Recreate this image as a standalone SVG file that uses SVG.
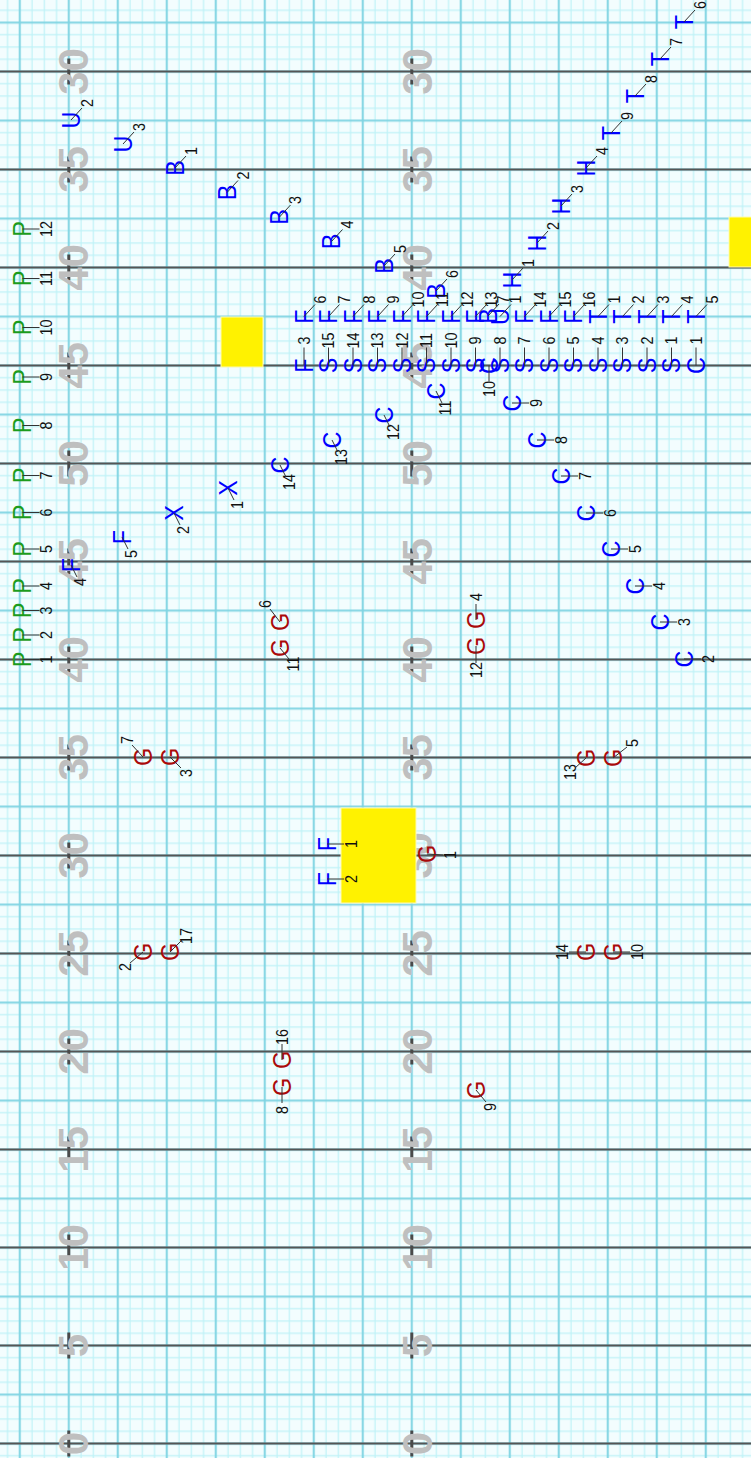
<svg xmlns="http://www.w3.org/2000/svg" width="751" height="1458" viewBox="0 0 751 1458">
<style>
.L{font-family:"Liberation Sans",Arial,sans-serif;font-size:26px;text-anchor:middle;dominant-baseline:central}
.N{font-family:"Liberation Sans",Arial,sans-serif;font-size:16px;text-anchor:middle;dominant-baseline:central;fill:#111}
.b{fill:#0000ff}.g{fill:#1c9c1c}.r{fill:#aa0a0a}
.Y{font-family:"Liberation Sans",Arial,sans-serif;font-size:42px;font-weight:bold;text-anchor:middle;fill:#bfbfbf}
.yl{fill:#fff200;stroke:#fffbb0;stroke-width:1}
#connectors line{stroke:#333;stroke-width:1}
.dk{stroke:#555;stroke-width:2}
.hs{stroke:#4a4a4a;stroke-width:3}
</style>
<defs>
<pattern id="grid" patternUnits="userSpaceOnUse" x="13.675" y="16.375" width="49" height="49">
<path d="M18.375 0V49M30.625 0V49M42.875 0V49M0 18.375H49M0 30.625H49M0 42.875H49" stroke="#bff2f7" stroke-width="1.2" fill="none"/>
<path d="M6.125 0V49M0 6.125H49" stroke="#80d4e2" stroke-width="2" fill="none"/>
</pattern>
</defs>
<g id="field">
<rect x="0" y="0" width="751" height="1458" fill="#f3fdfe"/>
<rect x="0" y="0" width="751" height="1458" fill="url(#grid)"/>
<path class="dk" d="M0 71.5H751M0 169.5H751M0 267.5H751M0 365.5H751M0 463.5H751M0 561.5H751M0 659.5H751M0 757.5H751M0 855.5H751M0 953.5H751M0 1051.5H751M0 1149.5H751M0 1247.5H751M0 1345.5H751M0 1443.5H751"/>
<path class="hs" d="M68.8 58.5V84.5M68.8 156.5V182.5M68.8 254.5V280.5M68.8 352.5V378.5M68.8 450.5V476.5M68.8 548.5V574.5M68.8 646.5V672.5M68.8 744.5V770.5M68.8 842.5V868.5M68.8 940.5V966.5M68.8 1038.5V1064.5M68.8 1136.5V1162.5M68.8 1234.5V1260.5M68.8 1332.5V1358.5M68.8 1430.5V1456.5M411.8 58.5V84.5M411.8 156.5V182.5M411.8 254.5V280.5M411.8 352.5V378.5M411.8 450.5V476.5M411.8 548.5V574.5M411.8 646.5V672.5M411.8 744.5V770.5M411.8 842.5V868.5M411.8 940.5V966.5M411.8 1038.5V1064.5M411.8 1136.5V1162.5M411.8 1234.5V1260.5M411.8 1332.5V1358.5M411.8 1430.5V1456.5"/>
<g id="yard-numbers">
<text class="Y" transform="translate(88 71.5) rotate(-90)">30</text>
<text class="Y" transform="translate(88 169.5) rotate(-90)">35</text>
<text class="Y" transform="translate(88 267.5) rotate(-90)">40</text>
<text class="Y" transform="translate(88 365.5) rotate(-90)">45</text>
<text class="Y" transform="translate(88 463.5) rotate(-90)">50</text>
<text class="Y" transform="translate(88 561.5) rotate(-90)">45</text>
<text class="Y" transform="translate(88 659.5) rotate(-90)">40</text>
<text class="Y" transform="translate(88 757.5) rotate(-90)">35</text>
<text class="Y" transform="translate(88 855.5) rotate(-90)">30</text>
<text class="Y" transform="translate(88 953.5) rotate(-90)">25</text>
<text class="Y" transform="translate(88 1051.5) rotate(-90)">20</text>
<text class="Y" transform="translate(88 1149.5) rotate(-90)">15</text>
<text class="Y" transform="translate(88 1247.5) rotate(-90)">10</text>
<text class="Y" transform="translate(88 1345.5) rotate(-90)">5</text>
<text class="Y" transform="translate(88 1443.5) rotate(-90)">0</text>
<text class="Y" transform="translate(431.5 71.5) rotate(-90)">30</text>
<text class="Y" transform="translate(431.5 169.5) rotate(-90)">35</text>
<text class="Y" transform="translate(431.5 267.5) rotate(-90)">40</text>
<text class="Y" transform="translate(431.5 365.5) rotate(-90)">45</text>
<text class="Y" transform="translate(431.5 463.5) rotate(-90)">50</text>
<text class="Y" transform="translate(431.5 561.5) rotate(-90)">45</text>
<text class="Y" transform="translate(431.5 659.5) rotate(-90)">40</text>
<text class="Y" transform="translate(431.5 757.5) rotate(-90)">35</text>
<text class="Y" transform="translate(431.5 855.5) rotate(-90)">30</text>
<text class="Y" transform="translate(431.5 953.5) rotate(-90)">25</text>
<text class="Y" transform="translate(431.5 1051.5) rotate(-90)">20</text>
<text class="Y" transform="translate(431.5 1149.5) rotate(-90)">15</text>
<text class="Y" transform="translate(431.5 1247.5) rotate(-90)">10</text>
<text class="Y" transform="translate(431.5 1345.5) rotate(-90)">5</text>
<text class="Y" transform="translate(431.5 1443.5) rotate(-90)">0</text>
</g>
<rect class="yl" x="221" y="317" width="42" height="50"/>
<rect class="yl" x="729" y="217" width="30" height="50"/>
<rect class="yl" x="341" y="808" width="75" height="95"/>
</g>
<g id="nodes">
<g id="U2"><text class="L b" transform="translate(71 120) rotate(-90) scale(.9 1)">U</text><text class="N" transform="translate(87 103) rotate(-90) scale(.9 1)">2</text></g>
<g id="U3"><text class="L b" transform="translate(123 144) rotate(-90) scale(.9 1)">U</text><text class="N" transform="translate(139 127) rotate(-90) scale(.9 1)">3</text></g>
<g id="B1"><text class="L b" transform="translate(175 168) rotate(-90) scale(.9 1)">B</text><text class="N" transform="translate(191 151) rotate(-90) scale(.9 1)">1</text></g>
<g id="B2"><text class="L b" transform="translate(227 192.5) rotate(-90) scale(.9 1)">B</text><text class="N" transform="translate(243 175.5) rotate(-90) scale(.9 1)">2</text></g>
<g id="B3"><text class="L b" transform="translate(279.5 217) rotate(-90) scale(.9 1)">B</text><text class="N" transform="translate(295.5 200) rotate(-90) scale(.9 1)">3</text></g>
<g id="B4"><text class="L b" transform="translate(331.5 241.5) rotate(-90) scale(.9 1)">B</text><text class="N" transform="translate(347.5 224.5) rotate(-90) scale(.9 1)">4</text></g>
<g id="B5"><text class="L b" transform="translate(384 266) rotate(-90) scale(.9 1)">B</text><text class="N" transform="translate(400 249) rotate(-90) scale(.9 1)">5</text></g>
<g id="B6"><text class="L b" transform="translate(436 291) rotate(-90) scale(.9 1)">B</text><text class="N" transform="translate(452 274) rotate(-90) scale(.9 1)">6</text></g>
<g id="H1"><text class="L b" transform="translate(512 280) rotate(-90) scale(.9 1)">H</text><text class="N" transform="translate(528 263) rotate(-90) scale(.9 1)">1</text></g>
<g id="H2"><text class="L b" transform="translate(537 243) rotate(-90) scale(.9 1)">H</text><text class="N" transform="translate(553 226) rotate(-90) scale(.9 1)">2</text></g>
<g id="H3"><text class="L b" transform="translate(561 206) rotate(-90) scale(.9 1)">H</text><text class="N" transform="translate(577 189) rotate(-90) scale(.9 1)">3</text></g>
<g id="H4"><text class="L b" transform="translate(586 168) rotate(-90) scale(.9 1)">H</text><text class="N" transform="translate(602 151) rotate(-90) scale(.9 1)">4</text></g>
<g id="T9"><text class="L b" transform="translate(611 133) rotate(-90) scale(.9 1)">T</text><text class="N" transform="translate(627 116) rotate(-90) scale(.9 1)">9</text></g>
<g id="T8"><text class="L b" transform="translate(635 96) rotate(-90) scale(.9 1)">T</text><text class="N" transform="translate(651 79) rotate(-90) scale(.9 1)">8</text></g>
<g id="T7"><text class="L b" transform="translate(660 59) rotate(-90) scale(.9 1)">T</text><text class="N" transform="translate(676 42) rotate(-90) scale(.9 1)">7</text></g>
<g id="T6"><text class="L b" transform="translate(684 22) rotate(-90) scale(.9 1)">T</text><text class="N" transform="translate(700 5) rotate(-90) scale(.9 1)">6</text></g>
<g id="F6"><text class="L b" transform="translate(304 316.5) rotate(-90) scale(.9 1)">F</text><text class="N" transform="translate(320 299.5) rotate(-90) scale(.9 1)">6</text></g>
<g id="F7"><text class="L b" transform="translate(328.5 316.5) rotate(-90) scale(.9 1)">F</text><text class="N" transform="translate(344.5 299.5) rotate(-90) scale(.9 1)">7</text></g>
<g id="F8"><text class="L b" transform="translate(353 316.5) rotate(-90) scale(.9 1)">F</text><text class="N" transform="translate(369 299.5) rotate(-90) scale(.9 1)">8</text></g>
<g id="F9"><text class="L b" transform="translate(377.5 316.5) rotate(-90) scale(.9 1)">F</text><text class="N" transform="translate(393.5 299.5) rotate(-90) scale(.9 1)">9</text></g>
<g id="F10"><text class="L b" transform="translate(402 316.5) rotate(-90) scale(.9 1)">F</text><text class="N" transform="translate(418 299.5) rotate(-90) scale(.9 1)">10</text></g>
<g id="F11"><text class="L b" transform="translate(426.5 316.5) rotate(-90) scale(.9 1)">F</text><text class="N" transform="translate(442.5 299.5) rotate(-90) scale(.9 1)">11</text></g>
<g id="F12"><text class="L b" transform="translate(451 316.5) rotate(-90) scale(.9 1)">F</text><text class="N" transform="translate(467 299.5) rotate(-90) scale(.9 1)">12</text></g>
<g id="F13"><text class="L b" transform="translate(475.5 316.5) rotate(-90) scale(.9 1)">F</text><text class="N" transform="translate(491.5 299.5) rotate(-90) scale(.9 1)">13</text></g>
<g id="B7"><text class="L b" transform="translate(488 316) rotate(-90) scale(.9 1)">B</text><text class="N" transform="translate(503 299.5) rotate(-90) scale(.9 1)">7</text></g>
<g id="U1"><text class="L b" transform="translate(500 316.5) rotate(-90) scale(.9 1)">U</text><text class="N" transform="translate(515 299.5) rotate(-90) scale(.9 1)">1</text></g>
<g id="F14"><text class="L b" transform="translate(524.5 316.5) rotate(-90) scale(.9 1)">F</text><text class="N" transform="translate(540.5 299.5) rotate(-90) scale(.9 1)">14</text></g>
<g id="F15"><text class="L b" transform="translate(549 316.5) rotate(-90) scale(.9 1)">F</text><text class="N" transform="translate(565 299.5) rotate(-90) scale(.9 1)">15</text></g>
<g id="F16"><text class="L b" transform="translate(573.5 316.5) rotate(-90) scale(.9 1)">F</text><text class="N" transform="translate(589.5 299.5) rotate(-90) scale(.9 1)">16</text></g>
<g id="T1"><text class="L b" transform="translate(598 316.5) rotate(-90) scale(.9 1)">T</text><text class="N" transform="translate(614 299.5) rotate(-90) scale(.9 1)">1</text></g>
<g id="T2"><text class="L b" transform="translate(622.5 316.5) rotate(-90) scale(.9 1)">T</text><text class="N" transform="translate(638.5 299.5) rotate(-90) scale(.9 1)">2</text></g>
<g id="T3"><text class="L b" transform="translate(647 316.5) rotate(-90) scale(.9 1)">T</text><text class="N" transform="translate(663 299.5) rotate(-90) scale(.9 1)">3</text></g>
<g id="T4"><text class="L b" transform="translate(671.5 316.5) rotate(-90) scale(.9 1)">T</text><text class="N" transform="translate(687.5 299.5) rotate(-90) scale(.9 1)">4</text></g>
<g id="T5"><text class="L b" transform="translate(696 316.5) rotate(-90) scale(.9 1)">T</text><text class="N" transform="translate(712 299.5) rotate(-90) scale(.9 1)">5</text></g>
<g id="F3"><text class="L b" transform="translate(304 365.5) rotate(-90) scale(.9 1)">F</text><text class="N" transform="translate(304 340.5) rotate(-90) scale(.9 1)">3</text></g>
<g id="S15"><text class="L b" transform="translate(328.5 365.5) rotate(-90) scale(.9 1)">S</text><text class="N" transform="translate(328.5 340.5) rotate(-90) scale(.9 1)">15</text></g>
<g id="S14"><text class="L b" transform="translate(353 365.5) rotate(-90) scale(.9 1)">S</text><text class="N" transform="translate(353 340.5) rotate(-90) scale(.9 1)">14</text></g>
<g id="S13"><text class="L b" transform="translate(377.5 365.5) rotate(-90) scale(.9 1)">S</text><text class="N" transform="translate(377.5 340.5) rotate(-90) scale(.9 1)">13</text></g>
<g id="S12"><text class="L b" transform="translate(402 365.5) rotate(-90) scale(.9 1)">S</text><text class="N" transform="translate(402 340.5) rotate(-90) scale(.9 1)">12</text></g>
<g id="S11"><text class="L b" transform="translate(426.5 365.5) rotate(-90) scale(.9 1)">S</text><text class="N" transform="translate(426.5 340.5) rotate(-90) scale(.9 1)">11</text></g>
<g id="S10"><text class="L b" transform="translate(451 365.5) rotate(-90) scale(.9 1)">S</text><text class="N" transform="translate(451 340.5) rotate(-90) scale(.9 1)">10</text></g>
<g id="S9"><text class="L b" transform="translate(475.5 365.5) rotate(-90) scale(.9 1)">S</text><text class="N" transform="translate(475.5 340.5) rotate(-90) scale(.9 1)">9</text></g>
<g id="C10"><text class="L b" transform="translate(489 365.5) rotate(-90) scale(.9 1)">C</text><text class="N" transform="translate(489 389) rotate(-90) scale(.9 1)">10</text></g>
<g id="S8"><text class="L b" transform="translate(500 365.5) rotate(-90) scale(.9 1)">S</text><text class="N" transform="translate(500 340.5) rotate(-90) scale(.9 1)">8</text></g>
<g id="S7"><text class="L b" transform="translate(524.5 365.5) rotate(-90) scale(.9 1)">S</text><text class="N" transform="translate(524.5 340.5) rotate(-90) scale(.9 1)">7</text></g>
<g id="S6"><text class="L b" transform="translate(549 365.5) rotate(-90) scale(.9 1)">S</text><text class="N" transform="translate(549 340.5) rotate(-90) scale(.9 1)">6</text></g>
<g id="S5"><text class="L b" transform="translate(573.5 365.5) rotate(-90) scale(.9 1)">S</text><text class="N" transform="translate(573.5 340.5) rotate(-90) scale(.9 1)">5</text></g>
<g id="S4"><text class="L b" transform="translate(598 365.5) rotate(-90) scale(.9 1)">S</text><text class="N" transform="translate(598 340.5) rotate(-90) scale(.9 1)">4</text></g>
<g id="S3"><text class="L b" transform="translate(622.5 365.5) rotate(-90) scale(.9 1)">S</text><text class="N" transform="translate(622.5 340.5) rotate(-90) scale(.9 1)">3</text></g>
<g id="S2"><text class="L b" transform="translate(647 365.5) rotate(-90) scale(.9 1)">S</text><text class="N" transform="translate(647 340.5) rotate(-90) scale(.9 1)">2</text></g>
<g id="S1"><text class="L b" transform="translate(671.5 365.5) rotate(-90) scale(.9 1)">S</text><text class="N" transform="translate(671.5 340.5) rotate(-90) scale(.9 1)">1</text></g>
<g id="C1"><text class="L b" transform="translate(696 365.5) rotate(-90) scale(.9 1)">C</text><text class="N" transform="translate(696 340.5) rotate(-90) scale(.9 1)">1</text></g>
<g id="C9"><text class="L b" transform="translate(512 403) rotate(-90) scale(.9 1)">C</text><text class="N" transform="translate(536 403) rotate(-90) scale(.9 1)">9</text></g>
<g id="C8"><text class="L b" transform="translate(537 440) rotate(-90) scale(.9 1)">C</text><text class="N" transform="translate(561 440) rotate(-90) scale(.9 1)">8</text></g>
<g id="C7"><text class="L b" transform="translate(561 476) rotate(-90) scale(.9 1)">C</text><text class="N" transform="translate(585 476) rotate(-90) scale(.9 1)">7</text></g>
<g id="C6"><text class="L b" transform="translate(586 513) rotate(-90) scale(.9 1)">C</text><text class="N" transform="translate(610 513) rotate(-90) scale(.9 1)">6</text></g>
<g id="C5"><text class="L b" transform="translate(611 549) rotate(-90) scale(.9 1)">C</text><text class="N" transform="translate(635 549) rotate(-90) scale(.9 1)">5</text></g>
<g id="C4"><text class="L b" transform="translate(635 586) rotate(-90) scale(.9 1)">C</text><text class="N" transform="translate(659 586) rotate(-90) scale(.9 1)">4</text></g>
<g id="C3"><text class="L b" transform="translate(660 622) rotate(-90) scale(.9 1)">C</text><text class="N" transform="translate(684 622) rotate(-90) scale(.9 1)">3</text></g>
<g id="C2"><text class="L b" transform="translate(684 659) rotate(-90) scale(.9 1)">C</text><text class="N" transform="translate(708 659) rotate(-90) scale(.9 1)">2</text></g>
<g id="C11"><text class="L b" transform="translate(436 391) rotate(-90) scale(.9 1)">C</text><text class="N" transform="translate(445 408) rotate(-90) scale(.9 1)">11</text></g>
<g id="C12"><text class="L b" transform="translate(384 415) rotate(-90) scale(.9 1)">C</text><text class="N" transform="translate(393 432) rotate(-90) scale(.9 1)">12</text></g>
<g id="C13"><text class="L b" transform="translate(332 440) rotate(-90) scale(.9 1)">C</text><text class="N" transform="translate(341 457) rotate(-90) scale(.9 1)">13</text></g>
<g id="C14"><text class="L b" transform="translate(280 465) rotate(-90) scale(.9 1)">C</text><text class="N" transform="translate(289 482) rotate(-90) scale(.9 1)">14</text></g>
<g id="P1"><text class="L g" transform="translate(22.5 659.5) rotate(-90) scale(.9 1)">P</text><text class="N" transform="translate(46.5 659.5) rotate(-90) scale(.9 1)">1</text></g>
<g id="P2"><text class="L g" transform="translate(22.5 635) rotate(-90) scale(.9 1)">P</text><text class="N" transform="translate(46.5 635) rotate(-90) scale(.9 1)">2</text></g>
<g id="P3"><text class="L g" transform="translate(22.5 610.5) rotate(-90) scale(.9 1)">P</text><text class="N" transform="translate(46.5 610.5) rotate(-90) scale(.9 1)">3</text></g>
<g id="P4"><text class="L g" transform="translate(22.5 586) rotate(-90) scale(.9 1)">P</text><text class="N" transform="translate(46.5 586) rotate(-90) scale(.9 1)">4</text></g>
<g id="P5"><text class="L g" transform="translate(22.5 549) rotate(-90) scale(.9 1)">P</text><text class="N" transform="translate(46.5 549) rotate(-90) scale(.9 1)">5</text></g>
<g id="P6"><text class="L g" transform="translate(22.5 512.5) rotate(-90) scale(.9 1)">P</text><text class="N" transform="translate(46.5 512.5) rotate(-90) scale(.9 1)">6</text></g>
<g id="P7"><text class="L g" transform="translate(22.5 475.5) rotate(-90) scale(.9 1)">P</text><text class="N" transform="translate(46.5 475.5) rotate(-90) scale(.9 1)">7</text></g>
<g id="P8"><text class="L g" transform="translate(22.5 425.5) rotate(-90) scale(.9 1)">P</text><text class="N" transform="translate(46.5 425.5) rotate(-90) scale(.9 1)">8</text></g>
<g id="P9"><text class="L g" transform="translate(22.5 377) rotate(-90) scale(.9 1)">P</text><text class="N" transform="translate(46.5 377) rotate(-90) scale(.9 1)">9</text></g>
<g id="P10"><text class="L g" transform="translate(22.5 327.5) rotate(-90) scale(.9 1)">P</text><text class="N" transform="translate(46.5 327.5) rotate(-90) scale(.9 1)">10</text></g>
<g id="P11"><text class="L g" transform="translate(22.5 278.5) rotate(-90) scale(.9 1)">P</text><text class="N" transform="translate(46.5 278.5) rotate(-90) scale(.9 1)">11</text></g>
<g id="P12"><text class="L g" transform="translate(22.5 229) rotate(-90) scale(.9 1)">P</text><text class="N" transform="translate(46.5 229) rotate(-90) scale(.9 1)">12</text></g>
<g id="F4"><text class="L b" transform="translate(71 565) rotate(-90) scale(.9 1)">F</text><text class="N" transform="translate(80 582) rotate(-90) scale(.9 1)">4</text></g>
<g id="F5"><text class="L b" transform="translate(122 537) rotate(-90) scale(.9 1)">F</text><text class="N" transform="translate(131 554) rotate(-90) scale(.9 1)">5</text></g>
<g id="X1"><text class="L b" transform="translate(228 488) rotate(-90) scale(.9 1)">X</text><text class="N" transform="translate(237 505) rotate(-90) scale(.9 1)">1</text></g>
<g id="X2"><text class="L b" transform="translate(174 513) rotate(-90) scale(.9 1)">X</text><text class="N" transform="translate(183 530) rotate(-90) scale(.9 1)">2</text></g>
<g id="F1"><text class="L b" transform="translate(327 844) rotate(-90) scale(.9 1)">F</text><text class="N" transform="translate(351 844) rotate(-90) scale(.9 1)">1</text></g>
<g id="F2"><text class="L b" transform="translate(327 879) rotate(-90) scale(.9 1)">F</text><text class="N" transform="translate(351 879) rotate(-90) scale(.9 1)">2</text></g>
<g id="G1"><text class="L r" transform="translate(427 854) rotate(-90) scale(.9 1)">G</text><text class="N" transform="translate(450 855) rotate(-90) scale(.9 1)">1</text></g>
<g id="G2"><text class="L r" transform="translate(143 952) rotate(-90) scale(.9 1)">G</text><text class="N" transform="translate(125 967) rotate(-90) scale(.9 1)">2</text></g>
<g id="G3"><text class="L r" transform="translate(170 757) rotate(-90) scale(.9 1)">G</text><text class="N" transform="translate(186 773) rotate(-90) scale(.9 1)">3</text></g>
<g id="G4"><text class="L r" transform="translate(476 620) rotate(-90) scale(.9 1)">G</text><text class="N" transform="translate(476 597) rotate(-90) scale(.9 1)">4</text></g>
<g id="G5"><text class="L r" transform="translate(613 758) rotate(-90) scale(.9 1)">G</text><text class="N" transform="translate(632 743) rotate(-90) scale(.9 1)">5</text></g>
<g id="G6"><text class="L r" transform="translate(280 622) rotate(-90) scale(.9 1)">G</text><text class="N" transform="translate(265 604) rotate(-90) scale(.9 1)">6</text></g>
<g id="G7"><text class="L r" transform="translate(143 757) rotate(-90) scale(.9 1)">G</text><text class="N" transform="translate(127 740) rotate(-90) scale(.9 1)">7</text></g>
<g id="G8"><text class="L r" transform="translate(282 1087) rotate(-90) scale(.9 1)">G</text><text class="N" transform="translate(282 1110) rotate(-90) scale(.9 1)">8</text></g>
<g id="G9"><text class="L r" transform="translate(476 1090) rotate(-90) scale(.9 1)">G</text><text class="N" transform="translate(490 1107) rotate(-90) scale(.9 1)">9</text></g>
<g id="G10"><text class="L r" transform="translate(613 952) rotate(-90) scale(.9 1)">G</text><text class="N" transform="translate(637 952) rotate(-90) scale(.9 1)">10</text></g>
<g id="G11"><text class="L r" transform="translate(280 648) rotate(-90) scale(.9 1)">G</text><text class="N" transform="translate(293 664) rotate(-90) scale(.9 1)">11</text></g>
<g id="G12"><text class="L r" transform="translate(476 646) rotate(-90) scale(.9 1)">G</text><text class="N" transform="translate(476 670) rotate(-90) scale(.9 1)">12</text></g>
<g id="G13"><text class="L r" transform="translate(586 758) rotate(-90) scale(.9 1)">G</text><text class="N" transform="translate(570 772) rotate(-90) scale(.9 1)">13</text></g>
<g id="G14"><text class="L r" transform="translate(586 952) rotate(-90) scale(.9 1)">G</text><text class="N" transform="translate(562 952) rotate(-90) scale(.9 1)">14</text></g>
<g id="G16"><text class="L r" transform="translate(282 1060) rotate(-90) scale(.9 1)">G</text><text class="N" transform="translate(282 1037) rotate(-90) scale(.9 1)">16</text></g>
<g id="G17"><text class="L r" transform="translate(170 952) rotate(-90) scale(.9 1)">G</text><text class="N" transform="translate(186 936) rotate(-90) scale(.9 1)">17</text></g>
</g>
<g id="connectors">
<line x1="71" y1="120" x2="82" y2="108"/><line x1="123" y1="144" x2="134" y2="132"/>
<line x1="175" y1="168" x2="186" y2="156"/><line x1="227" y1="192.5" x2="238" y2="180.5"/><line x1="279.5" y1="217" x2="290.5" y2="205"/><line x1="331.5" y1="241.5" x2="342.5" y2="229.5"/><line x1="384" y1="266" x2="395" y2="254"/><line x1="436" y1="291" x2="447" y2="279"/><line x1="488" y1="316" x2="499" y2="304"/>
<line x1="512" y1="280" x2="523" y2="268"/><line x1="537" y1="243" x2="548" y2="231"/><line x1="561" y1="206" x2="572" y2="194"/><line x1="586" y1="168" x2="597" y2="156"/>
<line x1="611" y1="133" x2="622" y2="121"/><line x1="635" y1="96" x2="646" y2="84"/><line x1="660" y1="59" x2="671" y2="47"/><line x1="684" y1="22" x2="695" y2="10"/>
<line x1="304" y1="316.5" x2="315" y2="304.5"/><line x1="328.5" y1="316.5" x2="339.5" y2="304.5"/><line x1="353" y1="316.5" x2="364" y2="304.5"/><line x1="377.5" y1="316.5" x2="388.5" y2="304.5"/><line x1="402" y1="316.5" x2="413" y2="304.5"/><line x1="426.5" y1="316.5" x2="437.5" y2="304.5"/><line x1="451" y1="316.5" x2="462" y2="304.5"/><line x1="475.5" y1="316.5" x2="486.5" y2="304.5"/><line x1="500" y1="316.5" x2="511" y2="304.5"/><line x1="524.5" y1="316.5" x2="535.5" y2="304.5"/><line x1="549" y1="316.5" x2="560" y2="304.5"/><line x1="573.5" y1="316.5" x2="584.5" y2="304.5"/><line x1="598" y1="316.5" x2="609" y2="304.5"/><line x1="622.5" y1="316.5" x2="633.5" y2="304.5"/><line x1="647" y1="316.5" x2="658" y2="304.5"/><line x1="671.5" y1="316.5" x2="682.5" y2="304.5"/><line x1="696" y1="316.5" x2="707" y2="304.5"/>
<line x1="304" y1="365.5" x2="304" y2="347.5"/><line x1="328.5" y1="365.5" x2="328.5" y2="347.5"/><line x1="353" y1="365.5" x2="353" y2="347.5"/><line x1="377.5" y1="365.5" x2="377.5" y2="347.5"/><line x1="402" y1="365.5" x2="402" y2="347.5"/><line x1="426.5" y1="365.5" x2="426.5" y2="347.5"/><line x1="451" y1="365.5" x2="451" y2="347.5"/><line x1="475.5" y1="365.5" x2="475.5" y2="347.5"/><line x1="500" y1="365.5" x2="500" y2="347.5"/><line x1="524.5" y1="365.5" x2="524.5" y2="347.5"/><line x1="549" y1="365.5" x2="549" y2="347.5"/><line x1="573.5" y1="365.5" x2="573.5" y2="347.5"/><line x1="598" y1="365.5" x2="598" y2="347.5"/><line x1="622.5" y1="365.5" x2="622.5" y2="347.5"/><line x1="647" y1="365.5" x2="647" y2="347.5"/><line x1="671.5" y1="365.5" x2="671.5" y2="347.5"/><line x1="696" y1="365.5" x2="696" y2="347.5"/>
<line x1="489" y1="365.5" x2="489" y2="381.5"/>
<line x1="512" y1="403" x2="529" y2="403"/><line x1="537" y1="440" x2="554" y2="440"/><line x1="561" y1="476" x2="578" y2="476"/><line x1="586" y1="513" x2="603" y2="513"/><line x1="611" y1="549" x2="628" y2="549"/><line x1="635" y1="586" x2="652" y2="586"/><line x1="660" y1="622" x2="677" y2="622"/><line x1="684" y1="659" x2="701" y2="659"/>
<line x1="436" y1="391" x2="442" y2="403"/><line x1="384" y1="415" x2="390" y2="427"/><line x1="332" y1="440" x2="338" y2="452"/><line x1="280" y1="465" x2="286" y2="477"/>
<line x1="22.5" y1="659.5" x2="39.5" y2="659.5"/><line x1="22.5" y1="635" x2="39.5" y2="635"/><line x1="22.5" y1="610.5" x2="39.5" y2="610.5"/><line x1="22.5" y1="586" x2="39.5" y2="586"/><line x1="22.5" y1="549" x2="39.5" y2="549"/><line x1="22.5" y1="512.5" x2="39.5" y2="512.5"/><line x1="22.5" y1="475.5" x2="39.5" y2="475.5"/><line x1="22.5" y1="425.5" x2="39.5" y2="425.5"/><line x1="22.5" y1="377" x2="39.5" y2="377"/><line x1="22.5" y1="327.5" x2="39.5" y2="327.5"/><line x1="22.5" y1="278.5" x2="39.5" y2="278.5"/><line x1="22.5" y1="229" x2="39.5" y2="229"/>
<line x1="71" y1="565" x2="77" y2="577"/><line x1="122" y1="537" x2="128" y2="549"/><line x1="228" y1="488" x2="234" y2="500"/><line x1="174" y1="513" x2="180" y2="525"/>
<line x1="327" y1="844" x2="344" y2="844"/><line x1="327" y1="879" x2="344" y2="879"/>
<line x1="427" y1="854" x2="443" y2="855"/><line x1="143" y1="952" x2="130" y2="963"/><line x1="170" y1="757" x2="181" y2="768"/><line x1="476" y1="620" x2="476" y2="604"/><line x1="613" y1="758" x2="627" y2="747"/><line x1="280" y1="622" x2="270" y2="609"/><line x1="143" y1="757" x2="132" y2="745"/><line x1="282" y1="1087" x2="282" y2="1103"/><line x1="476" y1="1090" x2="486" y2="1102"/><line x1="613" y1="952" x2="630" y2="952"/><line x1="280" y1="648" x2="289" y2="659"/><line x1="476" y1="646" x2="476" y2="663"/><line x1="586" y1="758" x2="575" y2="768"/><line x1="586" y1="952" x2="569" y2="952"/><line x1="282" y1="1060" x2="282" y2="1044"/><line x1="170" y1="952" x2="181" y2="941"/>
</g>
</svg>
